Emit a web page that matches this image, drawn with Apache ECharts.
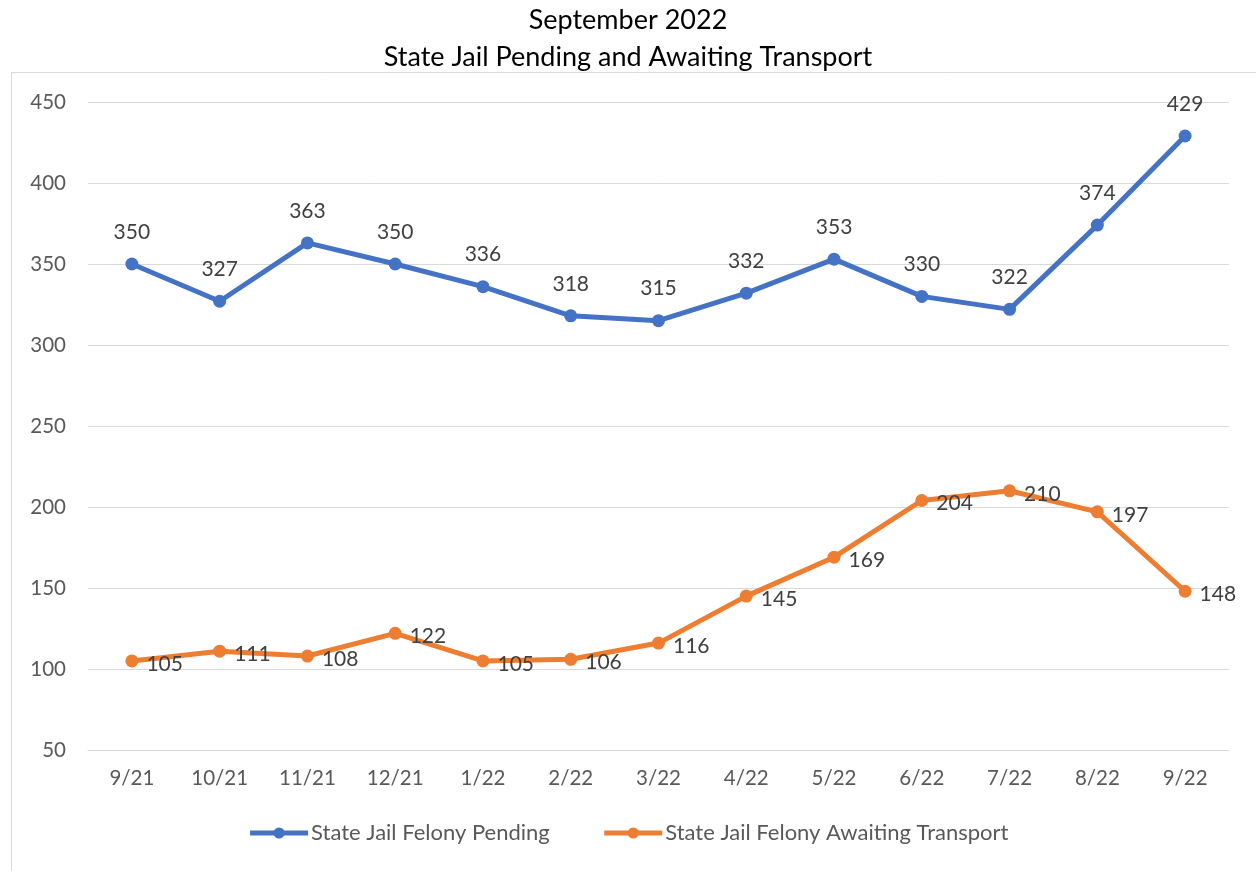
<!DOCTYPE html>
<html>
<head>
<meta charset="utf-8">
<script src="https://cdn.jsdelivr.net/npm/echarts@6/dist/echarts.min.js"></script>
<style>
  html, body { margin: 0; padding: 0; background: #fff; }
  #chart { width: 1256px; height: 871px; }
</style>
</head>
<body>
<div id="chart"></div>
<script>
const months = ["9/21", "10/21", "11/21", "12/21", "1/22", "2/22", "3/22", "4/22", "5/22", "6/22", "7/22", "8/22", "9/22"];
const pending = [350, 327, 363, 350, 336, 318, 315, 332, 353, 330, 322, 374, 429];
const awaiting = [105, 111, 108, 122, 105, 106, 116, 145, 169, 204, 210, 197, 148];

const chart = echarts.init(document.getElementById("chart"));
const font = "Lato, 'Noto Sans', sans-serif";

const option = {
  backgroundColor: "#fff",
  textStyle: { fontFamily: font },
  title: {
    text: "September 2022\nState Jail Pending and Awaiting Transport",
    left: "center",
    top: -3,
    textStyle: { fontFamily: font, fontSize: 27, fontWeight: "normal", color: "#000", lineHeight: 37 },
  },
  graphic: [
    {
      type: "rect",
      shape: { x: 11.5, y: 72.5, width: 1260, height: 820 },
      style: { fill: "none", stroke: "#d9d9d9", lineWidth: 1 },
      silent: true,
    },
  ],
  legend: {
    bottom: 22,
    left: "center",
    itemWidth: 58,
    itemHeight: 14,
    itemGap: 52,
    lineStyle: { width: 5 },
    textStyle: { fontFamily: font, fontSize: 22, color: "#595959", padding: [0, 0, 0, -2] },
  },
  grid: { left: 88, right: 27, top: 102, bottom: 121 },
  xAxis: {
    type: "category",
    data: months,
    boundaryGap: true,
    axisLine: { lineStyle: { color: "#d9d9d9" } },
    axisTick: { show: false },
    axisLabel: { fontFamily: font, fontSize: 20.5, color: "#595959", margin: 18 },
  },
  yAxis: {
    type: "value",
    min: 50,
    max: 450,
    interval: 50,
    axisLine: { show: false },
    axisTick: { show: false },
    axisLabel: { fontFamily: font, fontSize: 20.5, color: "#595959", margin: 22 },
    splitLine: { lineStyle: { color: "#d9d9d9" } },
  },
  series: [
    {
      name: "State Jail Felony Pending",
      type: "line",
      data: pending,
      color: "#4472C4",
      symbol: "circle",
      symbolSize: 13,
      lineStyle: { width: 5 },
      label: { show: true, position: "top", distance: 15, fontFamily: font, fontSize: 21, color: "#404040" },
    },
    {
      name: "State Jail Felony Awaiting Transport",
      type: "line",
      data: awaiting,
      color: "#ED7D31",
      symbol: "circle",
      symbolSize: 13,
      lineStyle: { width: 5 },
      label: { show: true, position: "right", distance: 8, offset: [0, 3], fontFamily: font, fontSize: 21, color: "#404040" },
    },
  ],
};
chart.setOption(option);
</script>
</body>
</html>
